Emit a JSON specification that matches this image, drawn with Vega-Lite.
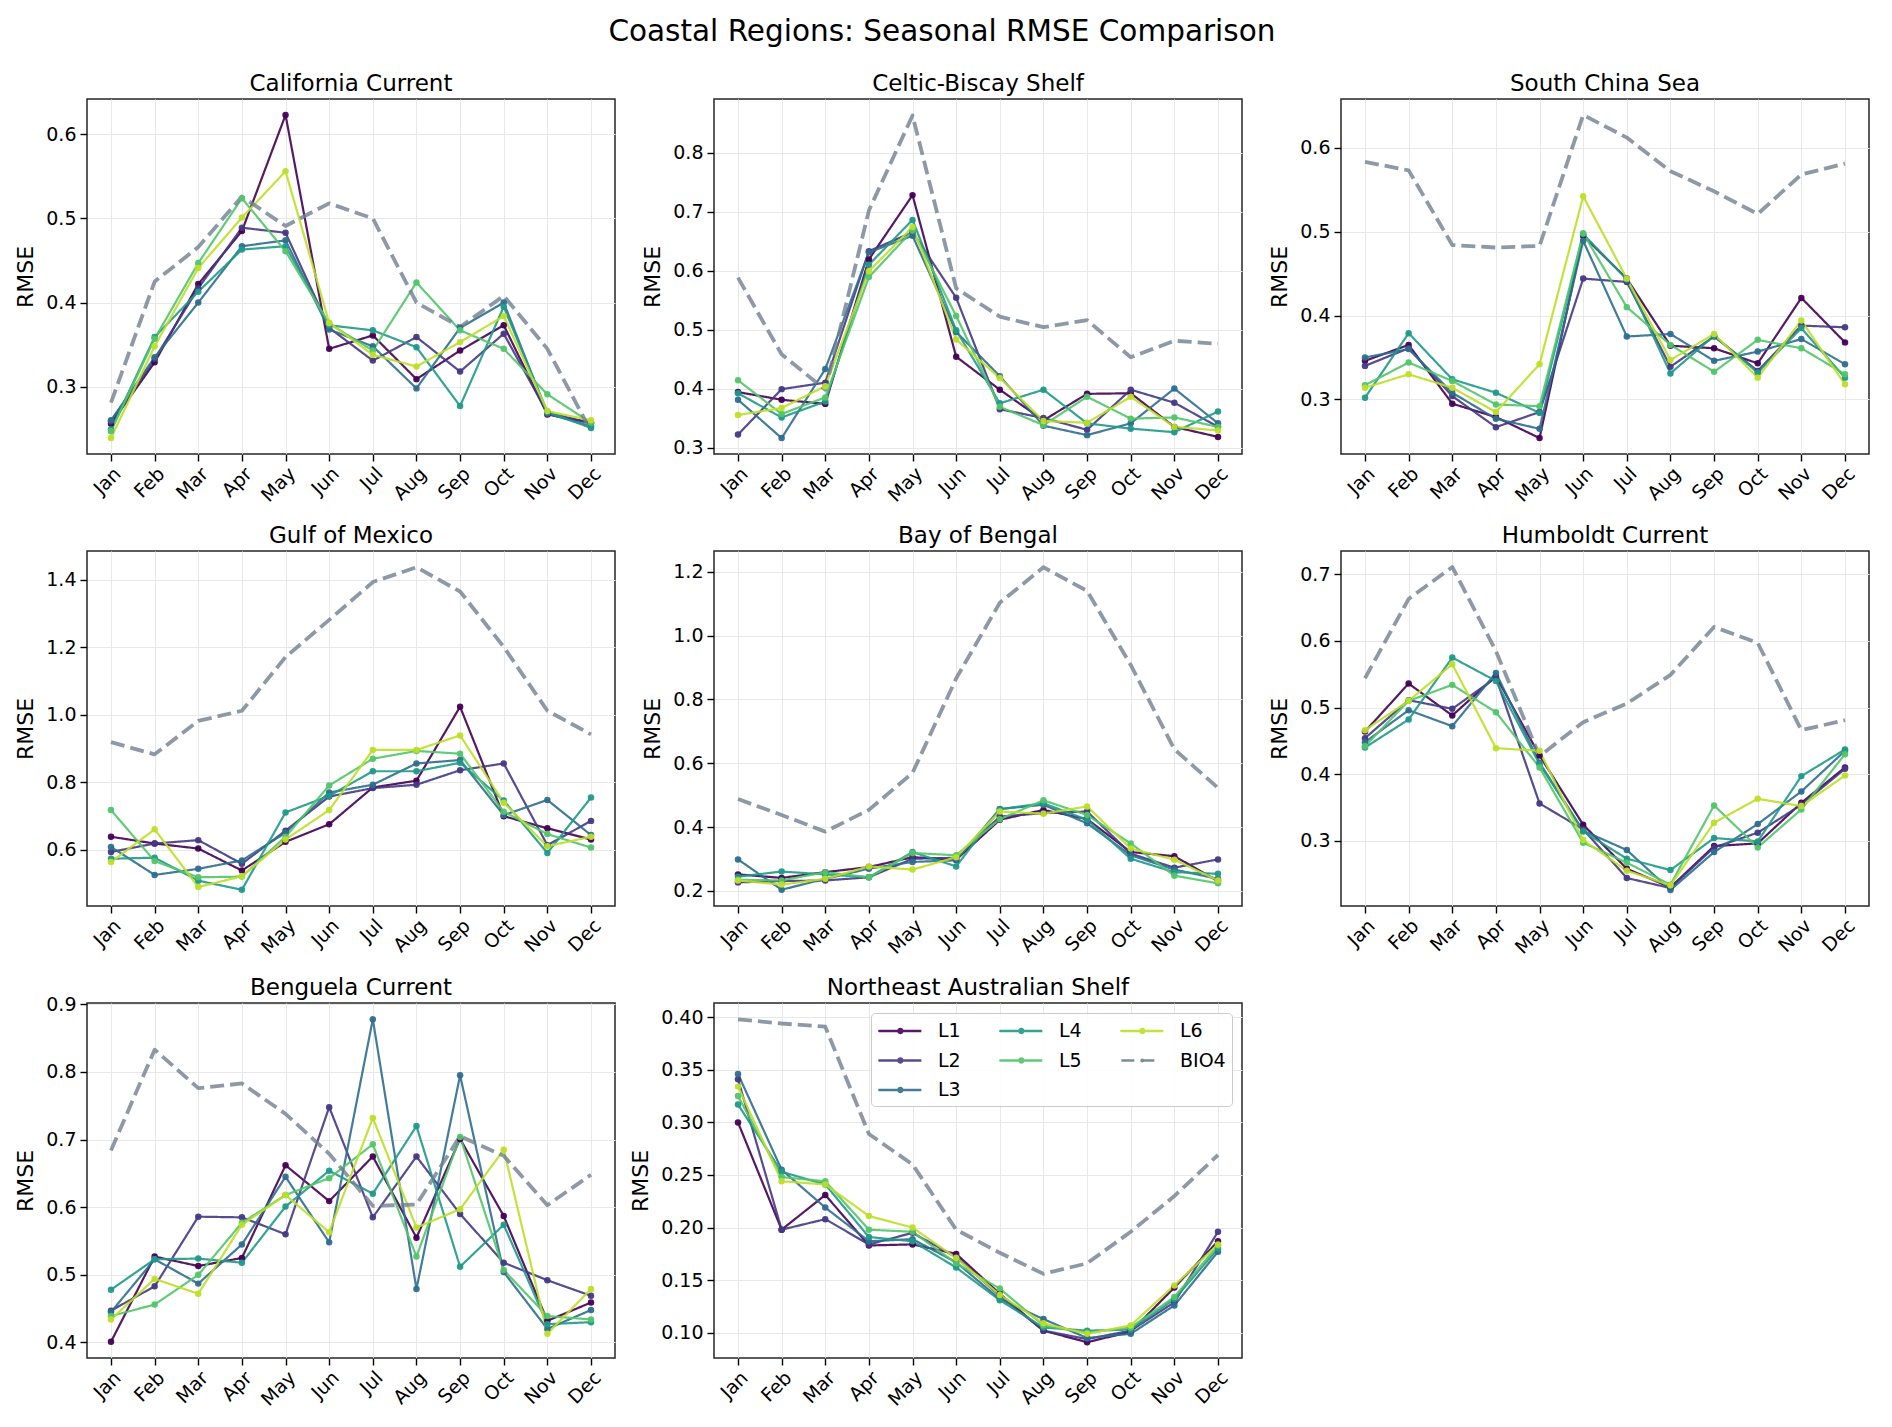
{
"$schema": "https://vega.github.io/schema/vega-lite/v6.json",
"padding": {"left": 14, "top": 16, "right": 10, "bottom": 8},
"title": {"text": "Coastal Regions: Seasonal RMSE Comparison", "fontSize": 29.5, "anchor": "middle", "offset": 25, "fontWeight": "normal", "color": "#000"},
"config": {
  "font": "DejaVu Sans",
  "view": {"stroke": "#262626", "strokeWidth": 1.5},
  "axis": {"domain": false, "labelFontSize": 19, "titleFontSize": 22, "titleFontWeight": "normal", "labelColor": "#000", "titleColor": "#000", "tickColor": "#000", "tickSize": 7, "tickWidth": 1.4, "gridColor": "#e8e8e8", "gridWidth": 1, "labelPadding": 4, "titlePadding": 8},
  "axisX": {"labelAngle": -45, "labelAlign": "right", "labelBaseline": "top", "labelPadding": 3},
  "title": {"fontSize": 23, "fontWeight": "normal", "color": "#000", "offset": 3},
  "line": {"strokeJoin": "round"}
},
"datasets": {
"cal": [
{"month":"Jan","model":"L1","rmse":0.256},{"month":"Feb","model":"L1","rmse":0.329},{"month":"Mar","model":"L1","rmse":0.422},{"month":"Apr","model":"L1","rmse":0.485},{"month":"May","model":"L1","rmse":0.623},{"month":"Jun","model":"L1","rmse":0.345},{"month":"Jul","model":"L1","rmse":0.361},{"month":"Aug","model":"L1","rmse":0.309},{"month":"Sep","model":"L1","rmse":0.343},{"month":"Oct","model":"L1","rmse":0.373},{"month":"Nov","model":"L1","rmse":0.267},{"month":"Dec","model":"L1","rmse":0.257},
{"month":"Jan","model":"L2","rmse":0.259},{"month":"Feb","model":"L2","rmse":0.333},{"month":"Mar","model":"L2","rmse":0.417},{"month":"Apr","model":"L2","rmse":0.489},{"month":"May","model":"L2","rmse":0.483},{"month":"Jun","model":"L2","rmse":0.370},{"month":"Jul","model":"L2","rmse":0.331},{"month":"Aug","model":"L2","rmse":0.359},{"month":"Sep","model":"L2","rmse":0.318},{"month":"Oct","model":"L2","rmse":0.363},{"month":"Nov","model":"L2","rmse":0.269},{"month":"Dec","model":"L2","rmse":0.257},
{"month":"Jan","model":"L3","rmse":0.260},{"month":"Feb","model":"L3","rmse":0.335},{"month":"Mar","model":"L3","rmse":0.400},{"month":"Apr","model":"L3","rmse":0.467},{"month":"May","model":"L3","rmse":0.474},{"month":"Jun","model":"L3","rmse":0.368},{"month":"Jul","model":"L3","rmse":0.348},{"month":"Aug","model":"L3","rmse":0.298},{"month":"Sep","model":"L3","rmse":0.370},{"month":"Oct","model":"L3","rmse":0.400},{"month":"Nov","model":"L3","rmse":0.268},{"month":"Dec","model":"L3","rmse":0.253},
{"month":"Jan","model":"L4","rmse":0.249},{"month":"Feb","model":"L4","rmse":0.359},{"month":"Mar","model":"L4","rmse":0.413},{"month":"Apr","model":"L4","rmse":0.463},{"month":"May","model":"L4","rmse":0.467},{"month":"Jun","model":"L4","rmse":0.373},{"month":"Jul","model":"L4","rmse":0.367},{"month":"Aug","model":"L4","rmse":0.347},{"month":"Sep","model":"L4","rmse":0.277},{"month":"Oct","model":"L4","rmse":0.395},{"month":"Nov","model":"L4","rmse":0.270},{"month":"Dec","model":"L4","rmse":0.251},
{"month":"Jan","model":"L5","rmse":0.247},{"month":"Feb","model":"L5","rmse":0.357},{"month":"Mar","model":"L5","rmse":0.447},{"month":"Apr","model":"L5","rmse":0.524},{"month":"May","model":"L5","rmse":0.461},{"month":"Jun","model":"L5","rmse":0.375},{"month":"Jul","model":"L5","rmse":0.343},{"month":"Aug","model":"L5","rmse":0.424},{"month":"Sep","model":"L5","rmse":0.367},{"month":"Oct","model":"L5","rmse":0.345},{"month":"Nov","model":"L5","rmse":0.291},{"month":"Dec","model":"L5","rmse":0.257},
{"month":"Jan","model":"L6","rmse":0.239},{"month":"Feb","model":"L6","rmse":0.348},{"month":"Mar","model":"L6","rmse":0.441},{"month":"Apr","model":"L6","rmse":0.501},{"month":"May","model":"L6","rmse":0.556},{"month":"Jun","model":"L6","rmse":0.376},{"month":"Jul","model":"L6","rmse":0.338},{"month":"Aug","model":"L6","rmse":0.324},{"month":"Sep","model":"L6","rmse":0.353},{"month":"Oct","model":"L6","rmse":0.384},{"month":"Nov","model":"L6","rmse":0.271},{"month":"Dec","model":"L6","rmse":0.260},
{"month":"Jan","model":"BIO4","rmse":0.281},{"month":"Feb","model":"BIO4","rmse":0.425},{"month":"Mar","model":"BIO4","rmse":0.466},{"month":"Apr","model":"BIO4","rmse":0.526},{"month":"May","model":"BIO4","rmse":0.491},{"month":"Jun","model":"BIO4","rmse":0.518},{"month":"Jul","model":"BIO4","rmse":0.500},{"month":"Aug","model":"BIO4","rmse":0.400},{"month":"Sep","model":"BIO4","rmse":0.371},{"month":"Oct","model":"BIO4","rmse":0.408},{"month":"Nov","model":"BIO4","rmse":0.345},{"month":"Dec","model":"BIO4","rmse":0.247}
],
"cel": [
{"month":"Jan","model":"L1","rmse":0.394},{"month":"Feb","model":"L1","rmse":0.381},{"month":"Mar","model":"L1","rmse":0.374},{"month":"Apr","model":"L1","rmse":0.619},{"month":"May","model":"L1","rmse":0.728},{"month":"Jun","model":"L1","rmse":0.454},{"month":"Jul","model":"L1","rmse":0.398},{"month":"Aug","model":"L1","rmse":0.346},{"month":"Sep","model":"L1","rmse":0.391},{"month":"Oct","model":"L1","rmse":0.392},{"month":"Nov","model":"L1","rmse":0.335},{"month":"Dec","model":"L1","rmse":0.318},
{"month":"Jan","model":"L2","rmse":0.322},{"month":"Feb","model":"L2","rmse":0.399},{"month":"Mar","model":"L2","rmse":0.410},{"month":"Apr","model":"L2","rmse":0.633},{"month":"May","model":"L2","rmse":0.665},{"month":"Jun","model":"L2","rmse":0.554},{"month":"Jul","model":"L2","rmse":0.365},{"month":"Aug","model":"L2","rmse":0.350},{"month":"Sep","model":"L2","rmse":0.330},{"month":"Oct","model":"L2","rmse":0.398},{"month":"Nov","model":"L2","rmse":0.376},{"month":"Dec","model":"L2","rmse":0.335},
{"month":"Jan","model":"L3","rmse":0.381},{"month":"Feb","model":"L3","rmse":0.316},{"month":"Mar","model":"L3","rmse":0.433},{"month":"Apr","model":"L3","rmse":0.631},{"month":"May","model":"L3","rmse":0.659},{"month":"Jun","model":"L3","rmse":0.496},{"month":"Jul","model":"L3","rmse":0.421},{"month":"Aug","model":"L3","rmse":0.337},{"month":"Sep","model":"L3","rmse":0.321},{"month":"Oct","model":"L3","rmse":0.341},{"month":"Nov","model":"L3","rmse":0.400},{"month":"Dec","model":"L3","rmse":0.341},
{"month":"Jan","model":"L4","rmse":0.392},{"month":"Feb","model":"L4","rmse":0.351},{"month":"Mar","model":"L4","rmse":0.378},{"month":"Apr","model":"L4","rmse":0.610},{"month":"May","model":"L4","rmse":0.686},{"month":"Jun","model":"L4","rmse":0.499},{"month":"Jul","model":"L4","rmse":0.375},{"month":"Aug","model":"L4","rmse":0.398},{"month":"Sep","model":"L4","rmse":0.341},{"month":"Oct","model":"L4","rmse":0.332},{"month":"Nov","model":"L4","rmse":0.326},{"month":"Dec","model":"L4","rmse":0.361},
{"month":"Jan","model":"L5","rmse":0.414},{"month":"Feb","model":"L5","rmse":0.357},{"month":"Mar","model":"L5","rmse":0.385},{"month":"Apr","model":"L5","rmse":0.589},{"month":"May","model":"L5","rmse":0.668},{"month":"Jun","model":"L5","rmse":0.523},{"month":"Jul","model":"L5","rmse":0.369},{"month":"Aug","model":"L5","rmse":0.338},{"month":"Sep","model":"L5","rmse":0.386},{"month":"Oct","model":"L5","rmse":0.349},{"month":"Nov","model":"L5","rmse":0.351},{"month":"Dec","model":"L5","rmse":0.335},
{"month":"Jan","model":"L6","rmse":0.355},{"month":"Feb","model":"L6","rmse":0.367},{"month":"Mar","model":"L6","rmse":0.404},{"month":"Apr","model":"L6","rmse":0.599},{"month":"May","model":"L6","rmse":0.674},{"month":"Jun","model":"L6","rmse":0.483},{"month":"Jul","model":"L6","rmse":0.418},{"month":"Aug","model":"L6","rmse":0.345},{"month":"Sep","model":"L6","rmse":0.342},{"month":"Oct","model":"L6","rmse":0.386},{"month":"Nov","model":"L6","rmse":0.335},{"month":"Dec","model":"L6","rmse":0.329},
{"month":"Jan","model":"BIO4","rmse":0.588},{"month":"Feb","model":"BIO4","rmse":0.458},{"month":"Mar","model":"BIO4","rmse":0.398},{"month":"Apr","model":"BIO4","rmse":0.702},{"month":"May","model":"BIO4","rmse":0.863},{"month":"Jun","model":"BIO4","rmse":0.570},{"month":"Jul","model":"BIO4","rmse":0.522},{"month":"Aug","model":"BIO4","rmse":0.504},{"month":"Sep","model":"BIO4","rmse":0.516},{"month":"Oct","model":"BIO4","rmse":0.453},{"month":"Nov","model":"BIO4","rmse":0.481},{"month":"Dec","model":"BIO4","rmse":0.476}
],
"scs": [
{"month":"Jan","model":"L1","rmse":0.346},{"month":"Feb","model":"L1","rmse":0.365},{"month":"Mar","model":"L1","rmse":0.295},{"month":"Apr","model":"L1","rmse":0.279},{"month":"May","model":"L1","rmse":0.254},{"month":"Jun","model":"L1","rmse":0.495},{"month":"Jul","model":"L1","rmse":0.444},{"month":"Aug","model":"L1","rmse":0.364},{"month":"Sep","model":"L1","rmse":0.361},{"month":"Oct","model":"L1","rmse":0.343},{"month":"Nov","model":"L1","rmse":0.421},{"month":"Dec","model":"L1","rmse":0.368},
{"month":"Jan","model":"L2","rmse":0.340},{"month":"Feb","model":"L2","rmse":0.361},{"month":"Mar","model":"L2","rmse":0.304},{"month":"Apr","model":"L2","rmse":0.267},{"month":"May","model":"L2","rmse":0.285},{"month":"Jun","model":"L2","rmse":0.444},{"month":"Jul","model":"L2","rmse":0.440},{"month":"Aug","model":"L2","rmse":0.339},{"month":"Sep","model":"L2","rmse":0.375},{"month":"Oct","model":"L2","rmse":0.334},{"month":"Nov","model":"L2","rmse":0.388},{"month":"Dec","model":"L2","rmse":0.386},
{"month":"Jan","model":"L3","rmse":0.350},{"month":"Feb","model":"L3","rmse":0.360},{"month":"Mar","model":"L3","rmse":0.308},{"month":"Apr","model":"L3","rmse":0.277},{"month":"May","model":"L3","rmse":0.265},{"month":"Jun","model":"L3","rmse":0.489},{"month":"Jul","model":"L3","rmse":0.375},{"month":"Aug","model":"L3","rmse":0.378},{"month":"Sep","model":"L3","rmse":0.346},{"month":"Oct","model":"L3","rmse":0.357},{"month":"Nov","model":"L3","rmse":0.372},{"month":"Dec","model":"L3","rmse":0.342},
{"month":"Jan","model":"L4","rmse":0.302},{"month":"Feb","model":"L4","rmse":0.379},{"month":"Mar","model":"L4","rmse":0.324},{"month":"Apr","model":"L4","rmse":0.308},{"month":"May","model":"L4","rmse":0.284},{"month":"Jun","model":"L4","rmse":0.497},{"month":"Jul","model":"L4","rmse":0.443},{"month":"Aug","model":"L4","rmse":0.331},{"month":"Sep","model":"L4","rmse":0.376},{"month":"Oct","model":"L4","rmse":0.332},{"month":"Nov","model":"L4","rmse":0.385},{"month":"Dec","model":"L4","rmse":0.326},
{"month":"Jan","model":"L5","rmse":0.317},{"month":"Feb","model":"L5","rmse":0.344},{"month":"Mar","model":"L5","rmse":0.322},{"month":"Apr","model":"L5","rmse":0.294},{"month":"May","model":"L5","rmse":0.292},{"month":"Jun","model":"L5","rmse":0.498},{"month":"Jul","model":"L5","rmse":0.410},{"month":"Aug","model":"L5","rmse":0.365},{"month":"Sep","model":"L5","rmse":0.333},{"month":"Oct","model":"L5","rmse":0.371},{"month":"Nov","model":"L5","rmse":0.361},{"month":"Dec","model":"L5","rmse":0.330},
{"month":"Jan","model":"L6","rmse":0.314},{"month":"Feb","model":"L6","rmse":0.330},{"month":"Mar","model":"L6","rmse":0.314},{"month":"Apr","model":"L6","rmse":0.285},{"month":"May","model":"L6","rmse":0.342},{"month":"Jun","model":"L6","rmse":0.542},{"month":"Jul","model":"L6","rmse":0.444},{"month":"Aug","model":"L6","rmse":0.347},{"month":"Sep","model":"L6","rmse":0.378},{"month":"Oct","model":"L6","rmse":0.326},{"month":"Nov","model":"L6","rmse":0.394},{"month":"Dec","model":"L6","rmse":0.318},
{"month":"Jan","model":"BIO4","rmse":0.583},{"month":"Feb","model":"BIO4","rmse":0.573},{"month":"Mar","model":"BIO4","rmse":0.484},{"month":"Apr","model":"BIO4","rmse":0.481},{"month":"May","model":"BIO4","rmse":0.483},{"month":"Jun","model":"BIO4","rmse":0.639},{"month":"Jul","model":"BIO4","rmse":0.612},{"month":"Aug","model":"BIO4","rmse":0.572},{"month":"Sep","model":"BIO4","rmse":0.548},{"month":"Oct","model":"BIO4","rmse":0.521},{"month":"Nov","model":"BIO4","rmse":0.568},{"month":"Dec","model":"BIO4","rmse":0.581}
],
"gom": [
{"month":"Jan","model":"L1","rmse":0.639},{"month":"Feb","model":"L1","rmse":0.619},{"month":"Mar","model":"L1","rmse":0.604},{"month":"Apr","model":"L1","rmse":0.539},{"month":"May","model":"L1","rmse":0.624},{"month":"Jun","model":"L1","rmse":0.676},{"month":"Jul","model":"L1","rmse":0.785},{"month":"Aug","model":"L1","rmse":0.805},{"month":"Sep","model":"L1","rmse":1.024},{"month":"Oct","model":"L1","rmse":0.700},{"month":"Nov","model":"L1","rmse":0.664},{"month":"Dec","model":"L1","rmse":0.631},
{"month":"Jan","model":"L2","rmse":0.594},{"month":"Feb","model":"L2","rmse":0.619},{"month":"Mar","model":"L2","rmse":0.629},{"month":"Apr","model":"L2","rmse":0.559},{"month":"May","model":"L2","rmse":0.657},{"month":"Jun","model":"L2","rmse":0.758},{"month":"Jul","model":"L2","rmse":0.783},{"month":"Aug","model":"L2","rmse":0.793},{"month":"Sep","model":"L2","rmse":0.836},{"month":"Oct","model":"L2","rmse":0.856},{"month":"Nov","model":"L2","rmse":0.614},{"month":"Dec","model":"L2","rmse":0.686},
{"month":"Jan","model":"L3","rmse":0.609},{"month":"Feb","model":"L3","rmse":0.526},{"month":"Mar","model":"L3","rmse":0.544},{"month":"Apr","model":"L3","rmse":0.569},{"month":"May","model":"L3","rmse":0.651},{"month":"Jun","model":"L3","rmse":0.770},{"month":"Jul","model":"L3","rmse":0.793},{"month":"Aug","model":"L3","rmse":0.856},{"month":"Sep","model":"L3","rmse":0.866},{"month":"Oct","model":"L3","rmse":0.703},{"month":"Nov","model":"L3","rmse":0.748},{"month":"Dec","model":"L3","rmse":0.644},
{"month":"Jan","model":"L4","rmse":0.574},{"month":"Feb","model":"L4","rmse":0.577},{"month":"Mar","model":"L4","rmse":0.509},{"month":"Apr","model":"L4","rmse":0.482},{"month":"May","model":"L4","rmse":0.711},{"month":"Jun","model":"L4","rmse":0.760},{"month":"Jul","model":"L4","rmse":0.833},{"month":"Aug","model":"L4","rmse":0.833},{"month":"Sep","model":"L4","rmse":0.858},{"month":"Oct","model":"L4","rmse":0.746},{"month":"Nov","model":"L4","rmse":0.591},{"month":"Dec","model":"L4","rmse":0.755},
{"month":"Jan","model":"L5","rmse":0.718},{"month":"Feb","model":"L5","rmse":0.567},{"month":"Mar","model":"L5","rmse":0.519},{"month":"Apr","model":"L5","rmse":0.521},{"month":"May","model":"L5","rmse":0.639},{"month":"Jun","model":"L5","rmse":0.791},{"month":"Jul","model":"L5","rmse":0.870},{"month":"Aug","model":"L5","rmse":0.893},{"month":"Sep","model":"L5","rmse":0.885},{"month":"Oct","model":"L5","rmse":0.713},{"month":"Nov","model":"L5","rmse":0.647},{"month":"Dec","model":"L5","rmse":0.607},
{"month":"Jan","model":"L6","rmse":0.564},{"month":"Feb","model":"L6","rmse":0.661},{"month":"Mar","model":"L6","rmse":0.490},{"month":"Apr","model":"L6","rmse":0.522},{"month":"May","model":"L6","rmse":0.631},{"month":"Jun","model":"L6","rmse":0.718},{"month":"Jul","model":"L6","rmse":0.896},{"month":"Aug","model":"L6","rmse":0.896},{"month":"Sep","model":"L6","rmse":0.939},{"month":"Oct","model":"L6","rmse":0.740},{"month":"Nov","model":"L6","rmse":0.611},{"month":"Dec","model":"L6","rmse":0.639},
{"month":"Jan","model":"BIO4","rmse":0.919},{"month":"Feb","model":"BIO4","rmse":0.883},{"month":"Mar","model":"BIO4","rmse":0.982},{"month":"Apr","model":"BIO4","rmse":1.012},{"month":"May","model":"BIO4","rmse":1.171},{"month":"Jun","model":"BIO4","rmse":1.281},{"month":"Jul","model":"BIO4","rmse":1.393},{"month":"Aug","model":"BIO4","rmse":1.437},{"month":"Sep","model":"BIO4","rmse":1.365},{"month":"Oct","model":"BIO4","rmse":1.201},{"month":"Nov","model":"BIO4","rmse":1.012},{"month":"Dec","model":"BIO4","rmse":0.942}
],
"bob": [
{"month":"Jan","model":"L1","rmse":0.252},{"month":"Feb","model":"L1","rmse":0.241},{"month":"Mar","model":"L1","rmse":0.259},{"month":"Apr","model":"L1","rmse":0.275},{"month":"May","model":"L1","rmse":0.306},{"month":"Jun","model":"L1","rmse":0.298},{"month":"Jul","model":"L1","rmse":0.423},{"month":"Aug","model":"L1","rmse":0.454},{"month":"Sep","model":"L1","rmse":0.425},{"month":"Oct","model":"L1","rmse":0.322},{"month":"Nov","model":"L1","rmse":0.309},{"month":"Dec","model":"L1","rmse":0.231},
{"month":"Jan","model":"L2","rmse":0.227},{"month":"Feb","model":"L2","rmse":0.231},{"month":"Mar","model":"L2","rmse":0.233},{"month":"Apr","model":"L2","rmse":0.243},{"month":"May","model":"L2","rmse":0.301},{"month":"Jun","model":"L2","rmse":0.304},{"month":"Jul","model":"L2","rmse":0.433},{"month":"Aug","model":"L2","rmse":0.444},{"month":"Sep","model":"L2","rmse":0.449},{"month":"Oct","model":"L2","rmse":0.317},{"month":"Nov","model":"L2","rmse":0.273},{"month":"Dec","model":"L2","rmse":0.299},
{"month":"Jan","model":"L3","rmse":0.299},{"month":"Feb","model":"L3","rmse":0.204},{"month":"Mar","model":"L3","rmse":0.238},{"month":"Apr","model":"L3","rmse":0.270},{"month":"May","model":"L3","rmse":0.291},{"month":"Jun","model":"L3","rmse":0.296},{"month":"Jul","model":"L3","rmse":0.457},{"month":"Aug","model":"L3","rmse":0.470},{"month":"Sep","model":"L3","rmse":0.412},{"month":"Oct","model":"L3","rmse":0.312},{"month":"Nov","model":"L3","rmse":0.267},{"month":"Dec","model":"L3","rmse":0.238},
{"month":"Jan","model":"L4","rmse":0.245},{"month":"Feb","model":"L4","rmse":0.261},{"month":"Mar","model":"L4","rmse":0.252},{"month":"Apr","model":"L4","rmse":0.243},{"month":"May","model":"L4","rmse":0.322},{"month":"Jun","model":"L4","rmse":0.277},{"month":"Jul","model":"L4","rmse":0.456},{"month":"Aug","model":"L4","rmse":0.475},{"month":"Sep","model":"L4","rmse":0.423},{"month":"Oct","model":"L4","rmse":0.301},{"month":"Nov","model":"L4","rmse":0.259},{"month":"Dec","model":"L4","rmse":0.254},
{"month":"Jan","model":"L5","rmse":0.235},{"month":"Feb","model":"L5","rmse":0.233},{"month":"Mar","model":"L5","rmse":0.259},{"month":"Apr","model":"L5","rmse":0.243},{"month":"May","model":"L5","rmse":0.319},{"month":"Jun","model":"L5","rmse":0.312},{"month":"Jul","model":"L5","rmse":0.425},{"month":"Aug","model":"L5","rmse":0.484},{"month":"Sep","model":"L5","rmse":0.438},{"month":"Oct","model":"L5","rmse":0.349},{"month":"Nov","model":"L5","rmse":0.248},{"month":"Dec","model":"L5","rmse":0.224},
{"month":"Jan","model":"L6","rmse":0.233},{"month":"Feb","model":"L6","rmse":0.220},{"month":"Mar","model":"L6","rmse":0.238},{"month":"Apr","model":"L6","rmse":0.277},{"month":"May","model":"L6","rmse":0.267},{"month":"Jun","model":"L6","rmse":0.306},{"month":"Jul","model":"L6","rmse":0.449},{"month":"Aug","model":"L6","rmse":0.442},{"month":"Sep","model":"L6","rmse":0.465},{"month":"Oct","model":"L6","rmse":0.333},{"month":"Nov","model":"L6","rmse":0.298},{"month":"Dec","model":"L6","rmse":0.233},
{"month":"Jan","model":"BIO4","rmse":0.488},{"month":"Feb","model":"BIO4","rmse":0.438},{"month":"Mar","model":"BIO4","rmse":0.386},{"month":"Apr","model":"BIO4","rmse":0.454},{"month":"May","model":"BIO4","rmse":0.570},{"month":"Jun","model":"BIO4","rmse":0.866},{"month":"Jul","model":"BIO4","rmse":1.103},{"month":"Aug","model":"BIO4","rmse":1.214},{"month":"Sep","model":"BIO4","rmse":1.140},{"month":"Oct","model":"BIO4","rmse":0.908},{"month":"Nov","model":"BIO4","rmse":0.644},{"month":"Dec","model":"BIO4","rmse":0.523}
],
"hum": [
{"month":"Jan","model":"L1","rmse":0.464},{"month":"Feb","model":"L1","rmse":0.536},{"month":"Mar","model":"L1","rmse":0.488},{"month":"Apr","model":"L1","rmse":0.547},{"month":"May","model":"L1","rmse":0.428},{"month":"Jun","model":"L1","rmse":0.324},{"month":"Jul","model":"L1","rmse":0.258},{"month":"Aug","model":"L1","rmse":0.230},{"month":"Sep","model":"L1","rmse":0.292},{"month":"Oct","model":"L1","rmse":0.296},{"month":"Nov","model":"L1","rmse":0.357},{"month":"Dec","model":"L1","rmse":0.410},
{"month":"Jan","model":"L2","rmse":0.454},{"month":"Feb","model":"L2","rmse":0.511},{"month":"Mar","model":"L2","rmse":0.498},{"month":"Apr","model":"L2","rmse":0.545},{"month":"May","model":"L2","rmse":0.356},{"month":"Jun","model":"L2","rmse":0.317},{"month":"Jul","model":"L2","rmse":0.244},{"month":"Aug","model":"L2","rmse":0.229},{"month":"Sep","model":"L2","rmse":0.290},{"month":"Oct","model":"L2","rmse":0.312},{"month":"Nov","model":"L2","rmse":0.354},{"month":"Dec","model":"L2","rmse":0.408},
{"month":"Jan","model":"L3","rmse":0.448},{"month":"Feb","model":"L3","rmse":0.496},{"month":"Mar","model":"L3","rmse":0.472},{"month":"Apr","model":"L3","rmse":0.552},{"month":"May","model":"L3","rmse":0.417},{"month":"Jun","model":"L3","rmse":0.315},{"month":"Jul","model":"L3","rmse":0.286},{"month":"Aug","model":"L3","rmse":0.226},{"month":"Sep","model":"L3","rmse":0.283},{"month":"Oct","model":"L3","rmse":0.325},{"month":"Nov","model":"L3","rmse":0.374},{"month":"Dec","model":"L3","rmse":0.435},
{"month":"Jan","model":"L4","rmse":0.440},{"month":"Feb","model":"L4","rmse":0.482},{"month":"Mar","model":"L4","rmse":0.575},{"month":"Apr","model":"L4","rmse":0.540},{"month":"May","model":"L4","rmse":0.415},{"month":"Jun","model":"L4","rmse":0.314},{"month":"Jul","model":"L4","rmse":0.273},{"month":"Aug","model":"L4","rmse":0.256},{"month":"Sep","model":"L4","rmse":0.304},{"month":"Oct","model":"L4","rmse":0.299},{"month":"Nov","model":"L4","rmse":0.397},{"month":"Dec","model":"L4","rmse":0.437},
{"month":"Jan","model":"L5","rmse":0.442},{"month":"Feb","model":"L5","rmse":0.510},{"month":"Mar","model":"L5","rmse":0.534},{"month":"Apr","model":"L5","rmse":0.493},{"month":"May","model":"L5","rmse":0.410},{"month":"Jun","model":"L5","rmse":0.297},{"month":"Jul","model":"L5","rmse":0.267},{"month":"Aug","model":"L5","rmse":0.234},{"month":"Sep","model":"L5","rmse":0.353},{"month":"Oct","model":"L5","rmse":0.290},{"month":"Nov","model":"L5","rmse":0.347},{"month":"Dec","model":"L5","rmse":0.430},
{"month":"Jan","model":"L6","rmse":0.466},{"month":"Feb","model":"L6","rmse":0.510},{"month":"Mar","model":"L6","rmse":0.565},{"month":"Apr","model":"L6","rmse":0.439},{"month":"May","model":"L6","rmse":0.435},{"month":"Jun","model":"L6","rmse":0.301},{"month":"Jul","model":"L6","rmse":0.255},{"month":"Aug","model":"L6","rmse":0.233},{"month":"Sep","model":"L6","rmse":0.327},{"month":"Oct","model":"L6","rmse":0.363},{"month":"Nov","model":"L6","rmse":0.352},{"month":"Dec","model":"L6","rmse":0.398},
{"month":"Jan","model":"BIO4","rmse":0.544},{"month":"Feb","model":"BIO4","rmse":0.663},{"month":"Mar","model":"BIO4","rmse":0.711},{"month":"Apr","model":"BIO4","rmse":0.585},{"month":"May","model":"BIO4","rmse":0.427},{"month":"Jun","model":"BIO4","rmse":0.478},{"month":"Jul","model":"BIO4","rmse":0.506},{"month":"Aug","model":"BIO4","rmse":0.549},{"month":"Sep","model":"BIO4","rmse":0.621},{"month":"Oct","model":"BIO4","rmse":0.597},{"month":"Nov","model":"BIO4","rmse":0.466},{"month":"Dec","model":"BIO4","rmse":0.481}
],
"ben": [
{"month":"Jan","model":"L1","rmse":0.401},{"month":"Feb","model":"L1","rmse":0.527},{"month":"Mar","model":"L1","rmse":0.513},{"month":"Apr","model":"L1","rmse":0.525},{"month":"May","model":"L1","rmse":0.662},{"month":"Jun","model":"L1","rmse":0.609},{"month":"Jul","model":"L1","rmse":0.675},{"month":"Aug","model":"L1","rmse":0.555},{"month":"Sep","model":"L1","rmse":0.701},{"month":"Oct","model":"L1","rmse":0.587},{"month":"Nov","model":"L1","rmse":0.432},{"month":"Dec","model":"L1","rmse":0.459},
{"month":"Jan","model":"L2","rmse":0.447},{"month":"Feb","model":"L2","rmse":0.483},{"month":"Mar","model":"L2","rmse":0.586},{"month":"Apr","model":"L2","rmse":0.585},{"month":"May","model":"L2","rmse":0.560},{"month":"Jun","model":"L2","rmse":0.748},{"month":"Jul","model":"L2","rmse":0.585},{"month":"Aug","model":"L2","rmse":0.675},{"month":"Sep","model":"L2","rmse":0.590},{"month":"Oct","model":"L2","rmse":0.518},{"month":"Nov","model":"L2","rmse":0.492},{"month":"Dec","model":"L2","rmse":0.469},
{"month":"Jan","model":"L3","rmse":0.445},{"month":"Feb","model":"L3","rmse":0.523},{"month":"Mar","model":"L3","rmse":0.487},{"month":"Apr","model":"L3","rmse":0.545},{"month":"May","model":"L3","rmse":0.645},{"month":"Jun","model":"L3","rmse":0.548},{"month":"Jul","model":"L3","rmse":0.878},{"month":"Aug","model":"L3","rmse":0.479},{"month":"Sep","model":"L3","rmse":0.795},{"month":"Oct","model":"L3","rmse":0.504},{"month":"Nov","model":"L3","rmse":0.420},{"month":"Dec","model":"L3","rmse":0.448},
{"month":"Jan","model":"L4","rmse":0.478},{"month":"Feb","model":"L4","rmse":0.523},{"month":"Mar","model":"L4","rmse":0.524},{"month":"Apr","model":"L4","rmse":0.518},{"month":"May","model":"L4","rmse":0.601},{"month":"Jun","model":"L4","rmse":0.654},{"month":"Jul","model":"L4","rmse":0.620},{"month":"Aug","model":"L4","rmse":0.720},{"month":"Sep","model":"L4","rmse":0.512},{"month":"Oct","model":"L4","rmse":0.574},{"month":"Nov","model":"L4","rmse":0.427},{"month":"Dec","model":"L4","rmse":0.430},
{"month":"Jan","model":"L5","rmse":0.439},{"month":"Feb","model":"L5","rmse":0.456},{"month":"Mar","model":"L5","rmse":0.500},{"month":"Apr","model":"L5","rmse":0.577},{"month":"May","model":"L5","rmse":0.618},{"month":"Jun","model":"L5","rmse":0.643},{"month":"Jul","model":"L5","rmse":0.693},{"month":"Aug","model":"L5","rmse":0.527},{"month":"Sep","model":"L5","rmse":0.704},{"month":"Oct","model":"L5","rmse":0.507},{"month":"Nov","model":"L5","rmse":0.439},{"month":"Dec","model":"L5","rmse":0.434},
{"month":"Jan","model":"L6","rmse":0.434},{"month":"Feb","model":"L6","rmse":0.494},{"month":"Mar","model":"L6","rmse":0.472},{"month":"Apr","model":"L6","rmse":0.574},{"month":"May","model":"L6","rmse":0.618},{"month":"Jun","model":"L6","rmse":0.563},{"month":"Jul","model":"L6","rmse":0.732},{"month":"Aug","model":"L6","rmse":0.570},{"month":"Sep","model":"L6","rmse":0.597},{"month":"Oct","model":"L6","rmse":0.685},{"month":"Nov","model":"L6","rmse":0.413},{"month":"Dec","model":"L6","rmse":0.479},
{"month":"Jan","model":"BIO4","rmse":0.684},{"month":"Feb","model":"BIO4","rmse":0.833},{"month":"Mar","model":"BIO4","rmse":0.776},{"month":"Apr","model":"BIO4","rmse":0.783},{"month":"May","model":"BIO4","rmse":0.738},{"month":"Jun","model":"BIO4","rmse":0.679},{"month":"Jul","model":"BIO4","rmse":0.602},{"month":"Aug","model":"BIO4","rmse":0.604},{"month":"Sep","model":"BIO4","rmse":0.705},{"month":"Oct","model":"BIO4","rmse":0.676},{"month":"Nov","model":"BIO4","rmse":0.603},{"month":"Dec","model":"BIO4","rmse":0.648}
],
"nea": [
{"month":"Jan","model":"L1","rmse":0.300},{"month":"Feb","model":"L1","rmse":0.198},{"month":"Mar","model":"L1","rmse":0.231},{"month":"Apr","model":"L1","rmse":0.183},{"month":"May","model":"L1","rmse":0.184},{"month":"Jun","model":"L1","rmse":0.175},{"month":"Jul","model":"L1","rmse":0.137},{"month":"Aug","model":"L1","rmse":0.102},{"month":"Sep","model":"L1","rmse":0.091},{"month":"Oct","model":"L1","rmse":0.101},{"month":"Nov","model":"L1","rmse":0.143},{"month":"Dec","model":"L1","rmse":0.187},
{"month":"Jan","model":"L2","rmse":0.341},{"month":"Feb","model":"L2","rmse":0.198},{"month":"Mar","model":"L2","rmse":0.208},{"month":"Apr","model":"L2","rmse":0.184},{"month":"May","model":"L2","rmse":0.195},{"month":"Jun","model":"L2","rmse":0.172},{"month":"Jul","model":"L2","rmse":0.135},{"month":"Aug","model":"L2","rmse":0.102},{"month":"Sep","model":"L2","rmse":0.094},{"month":"Oct","model":"L2","rmse":0.102},{"month":"Nov","model":"L2","rmse":0.129},{"month":"Dec","model":"L2","rmse":0.196},
{"month":"Jan","model":"L3","rmse":0.346},{"month":"Feb","model":"L3","rmse":0.255},{"month":"Mar","model":"L3","rmse":0.219},{"month":"Apr","model":"L3","rmse":0.187},{"month":"May","model":"L3","rmse":0.189},{"month":"Jun","model":"L3","rmse":0.167},{"month":"Jul","model":"L3","rmse":0.132},{"month":"Aug","model":"L3","rmse":0.113},{"month":"Sep","model":"L3","rmse":0.095},{"month":"Oct","model":"L3","rmse":0.099},{"month":"Nov","model":"L3","rmse":0.126},{"month":"Dec","model":"L3","rmse":0.177},
{"month":"Jan","model":"L4","rmse":0.317},{"month":"Feb","model":"L4","rmse":0.253},{"month":"Mar","model":"L4","rmse":0.241},{"month":"Apr","model":"L4","rmse":0.191},{"month":"May","model":"L4","rmse":0.187},{"month":"Jun","model":"L4","rmse":0.162},{"month":"Jul","model":"L4","rmse":0.131},{"month":"Aug","model":"L4","rmse":0.105},{"month":"Sep","model":"L4","rmse":0.102},{"month":"Oct","model":"L4","rmse":0.103},{"month":"Nov","model":"L4","rmse":0.132},{"month":"Dec","model":"L4","rmse":0.180},
{"month":"Jan","model":"L5","rmse":0.325},{"month":"Feb","model":"L5","rmse":0.248},{"month":"Mar","model":"L5","rmse":0.244},{"month":"Apr","model":"L5","rmse":0.198},{"month":"May","model":"L5","rmse":0.196},{"month":"Jun","model":"L5","rmse":0.166},{"month":"Jul","model":"L5","rmse":0.142},{"month":"Aug","model":"L5","rmse":0.107},{"month":"Sep","model":"L5","rmse":0.100},{"month":"Oct","model":"L5","rmse":0.105},{"month":"Nov","model":"L5","rmse":0.134},{"month":"Dec","model":"L5","rmse":0.183},
{"month":"Jan","model":"L6","rmse":0.334},{"month":"Feb","model":"L6","rmse":0.244},{"month":"Mar","model":"L6","rmse":0.241},{"month":"Apr","model":"L6","rmse":0.211},{"month":"May","model":"L6","rmse":0.200},{"month":"Jun","model":"L6","rmse":0.171},{"month":"Jul","model":"L6","rmse":0.136},{"month":"Aug","model":"L6","rmse":0.109},{"month":"Sep","model":"L6","rmse":0.099},{"month":"Oct","model":"L6","rmse":0.107},{"month":"Nov","model":"L6","rmse":0.145},{"month":"Dec","model":"L6","rmse":0.184},
{"month":"Jan","model":"BIO4","rmse":0.398},{"month":"Feb","model":"BIO4","rmse":0.394},{"month":"Mar","model":"BIO4","rmse":0.391},{"month":"Apr","model":"BIO4","rmse":0.289},{"month":"May","model":"BIO4","rmse":0.260},{"month":"Jun","model":"BIO4","rmse":0.198},{"month":"Jul","model":"BIO4","rmse":0.176},{"month":"Aug","model":"BIO4","rmse":0.156},{"month":"Sep","model":"BIO4","rmse":0.166},{"month":"Oct","model":"BIO4","rmse":0.196},{"month":"Nov","model":"BIO4","rmse":0.230},{"month":"Dec","model":"BIO4","rmse":0.269}
]
},
"columns": 3,
"bounds": "flush",
"spacing": {"column": 99, "row": 97},
"resolve": {"scale": {"x": "independent", "y": "independent", "color": "shared"}, "legend": {"color": "independent", "strokeDash": "independent"}},
"concat": [
{"width": 528, "height": 355, "title": "California Current", "data": {"name": "cal"},
 "encoding": {
  "x": {"field": "month", "type": "ordinal", "title": null, "scale": {"type": "point", "domain": ["Jan","Feb","Mar","Apr","May","Jun","Jul","Aug","Sep","Oct","Nov","Dec"], "padding": 0.55}, "axis": {"grid": true}},
  "y": {"field": "rmse", "type": "quantitative", "title": "RMSE", "scale": {"domain": [0.22, 0.642], "zero": false, "nice": false}, "axis": {"values": [0.3,0.4,0.5,0.6], "format": ".1f"}},
  "color": {"field": "model", "type": "nominal", "scale": {"domain": ["L1","L4","L6","L2","L5","BIO4","L3"], "range": ["#440154","#1f9a8a","#bddf26","#443983","#52c569","#708090","#2e6e8e"]}, "legend": null}
 },
 "layer": [
  {"mark": {"type": "line"}, "encoding": {"order": {"value": null}, "strokeDash": {"condition": {"test": "datum.model === 'BIO4'", "value": [14,6]}, "value": [1,0]}, "strokeWidth": {"condition": {"test": "datum.model === 'BIO4'", "value": 3.8}, "value": 2.2}, "opacity": {"condition": {"test": "datum.model === 'BIO4'", "value": 0.8}, "value": 0.9}}},
  {"transform": [{"filter": "datum.model !== 'BIO4'"}], "mark": {"type": "point", "filled": true, "size": 42, "opacity": 0.95}}
 ]},
{"width": 528, "height": 355, "title": "Celtic-Biscay Shelf", "data": {"name": "cel"},
 "encoding": {
  "x": {"field": "month", "type": "ordinal", "title": null, "scale": {"type": "point", "domain": ["Jan","Feb","Mar","Apr","May","Jun","Jul","Aug","Sep","Oct","Nov","Dec"], "padding": 0.55}, "axis": {"grid": true}},
  "y": {"field": "rmse", "type": "quantitative", "title": "RMSE", "scale": {"domain": [0.289, 0.891], "zero": false, "nice": false}, "axis": {"values": [0.3,0.4,0.5,0.6,0.7,0.8], "format": ".1f"}},
  "color": {"field": "model", "type": "nominal", "scale": {"domain": ["L1","L4","L6","L2","L5","BIO4","L3"], "range": ["#440154","#1f9a8a","#bddf26","#443983","#52c569","#708090","#2e6e8e"]}, "legend": null}
 },
 "layer": [
  {"mark": {"type": "line"}, "encoding": {"order": {"value": null}, "strokeDash": {"condition": {"test": "datum.model === 'BIO4'", "value": [14,6]}, "value": [1,0]}, "strokeWidth": {"condition": {"test": "datum.model === 'BIO4'", "value": 3.8}, "value": 2.2}, "opacity": {"condition": {"test": "datum.model === 'BIO4'", "value": 0.8}, "value": 0.9}}},
  {"transform": [{"filter": "datum.model !== 'BIO4'"}], "mark": {"type": "point", "filled": true, "size": 42, "opacity": 0.95}}
 ]},
{"width": 528, "height": 355, "title": "South China Sea", "data": {"name": "scs"},
 "encoding": {
  "x": {"field": "month", "type": "ordinal", "title": null, "scale": {"type": "point", "domain": ["Jan","Feb","Mar","Apr","May","Jun","Jul","Aug","Sep","Oct","Nov","Dec"], "padding": 0.55}, "axis": {"grid": true}},
  "y": {"field": "rmse", "type": "quantitative", "title": "RMSE", "scale": {"domain": [0.235, 0.658], "zero": false, "nice": false}, "axis": {"values": [0.3,0.4,0.5,0.6], "format": ".1f"}},
  "color": {"field": "model", "type": "nominal", "scale": {"domain": ["L1","L4","L6","L2","L5","BIO4","L3"], "range": ["#440154","#1f9a8a","#bddf26","#443983","#52c569","#708090","#2e6e8e"]}, "legend": null}
 },
 "layer": [
  {"mark": {"type": "line"}, "encoding": {"order": {"value": null}, "strokeDash": {"condition": {"test": "datum.model === 'BIO4'", "value": [14,6]}, "value": [1,0]}, "strokeWidth": {"condition": {"test": "datum.model === 'BIO4'", "value": 3.8}, "value": 2.2}, "opacity": {"condition": {"test": "datum.model === 'BIO4'", "value": 0.8}, "value": 0.9}}},
  {"transform": [{"filter": "datum.model !== 'BIO4'"}], "mark": {"type": "point", "filled": true, "size": 42, "opacity": 0.95}}
 ]},
{"width": 528, "height": 355, "title": "Gulf of Mexico", "data": {"name": "gom"},
 "encoding": {
  "x": {"field": "month", "type": "ordinal", "title": null, "scale": {"type": "point", "domain": ["Jan","Feb","Mar","Apr","May","Jun","Jul","Aug","Sep","Oct","Nov","Dec"], "padding": 0.55}, "axis": {"grid": true}},
  "y": {"field": "rmse", "type": "quantitative", "title": "RMSE", "scale": {"domain": [0.434, 1.485], "zero": false, "nice": false}, "axis": {"values": [0.6,0.8,1.0,1.2,1.4], "format": ".1f"}},
  "color": {"field": "model", "type": "nominal", "scale": {"domain": ["L1","L4","L6","L2","L5","BIO4","L3"], "range": ["#440154","#1f9a8a","#bddf26","#443983","#52c569","#708090","#2e6e8e"]}, "legend": null}
 },
 "layer": [
  {"mark": {"type": "line"}, "encoding": {"order": {"value": null}, "strokeDash": {"condition": {"test": "datum.model === 'BIO4'", "value": [14,6]}, "value": [1,0]}, "strokeWidth": {"condition": {"test": "datum.model === 'BIO4'", "value": 3.8}, "value": 2.2}, "opacity": {"condition": {"test": "datum.model === 'BIO4'", "value": 0.8}, "value": 0.9}}},
  {"transform": [{"filter": "datum.model !== 'BIO4'"}], "mark": {"type": "point", "filled": true, "size": 42, "opacity": 0.95}}
 ]},
{"width": 528, "height": 355, "title": "Bay of Bengal", "data": {"name": "bob"},
 "encoding": {
  "x": {"field": "month", "type": "ordinal", "title": null, "scale": {"type": "point", "domain": ["Jan","Feb","Mar","Apr","May","Jun","Jul","Aug","Sep","Oct","Nov","Dec"], "padding": 0.55}, "axis": {"grid": true}},
  "y": {"field": "rmse", "type": "quantitative", "title": "RMSE", "scale": {"domain": [0.153, 1.265], "zero": false, "nice": false}, "axis": {"values": [0.2,0.4,0.6,0.8,1.0,1.2], "format": ".1f"}},
  "color": {"field": "model", "type": "nominal", "scale": {"domain": ["L1","L4","L6","L2","L5","BIO4","L3"], "range": ["#440154","#1f9a8a","#bddf26","#443983","#52c569","#708090","#2e6e8e"]}, "legend": null}
 },
 "layer": [
  {"mark": {"type": "line"}, "encoding": {"order": {"value": null}, "strokeDash": {"condition": {"test": "datum.model === 'BIO4'", "value": [14,6]}, "value": [1,0]}, "strokeWidth": {"condition": {"test": "datum.model === 'BIO4'", "value": 3.8}, "value": 2.2}, "opacity": {"condition": {"test": "datum.model === 'BIO4'", "value": 0.8}, "value": 0.9}}},
  {"transform": [{"filter": "datum.model !== 'BIO4'"}], "mark": {"type": "point", "filled": true, "size": 42, "opacity": 0.95}}
 ]},
{"width": 528, "height": 355, "title": "Humboldt Current", "data": {"name": "hum"},
 "encoding": {
  "x": {"field": "month", "type": "ordinal", "title": null, "scale": {"type": "point", "domain": ["Jan","Feb","Mar","Apr","May","Jun","Jul","Aug","Sep","Oct","Nov","Dec"], "padding": 0.55}, "axis": {"grid": true}},
  "y": {"field": "rmse", "type": "quantitative", "title": "RMSE", "scale": {"domain": [0.202, 0.735], "zero": false, "nice": false}, "axis": {"values": [0.3,0.4,0.5,0.6,0.7], "format": ".1f"}},
  "color": {"field": "model", "type": "nominal", "scale": {"domain": ["L1","L4","L6","L2","L5","BIO4","L3"], "range": ["#440154","#1f9a8a","#bddf26","#443983","#52c569","#708090","#2e6e8e"]}, "legend": null}
 },
 "layer": [
  {"mark": {"type": "line"}, "encoding": {"order": {"value": null}, "strokeDash": {"condition": {"test": "datum.model === 'BIO4'", "value": [14,6]}, "value": [1,0]}, "strokeWidth": {"condition": {"test": "datum.model === 'BIO4'", "value": 3.8}, "value": 2.2}, "opacity": {"condition": {"test": "datum.model === 'BIO4'", "value": 0.8}, "value": 0.9}}},
  {"transform": [{"filter": "datum.model !== 'BIO4'"}], "mark": {"type": "point", "filled": true, "size": 42, "opacity": 0.95}}
 ]},
{"width": 528, "height": 355, "title": {"text": "Benguela Current", "offset": -5}, "data": {"name": "ben"},
 "encoding": {
  "x": {"field": "month", "type": "ordinal", "title": null, "scale": {"type": "point", "domain": ["Jan","Feb","Mar","Apr","May","Jun","Jul","Aug","Sep","Oct","Nov","Dec"], "padding": 0.55}, "axis": {"grid": true}},
  "y": {"field": "rmse", "type": "quantitative", "title": "RMSE", "scale": {"domain": [0.377, 0.902], "zero": false, "nice": false}, "axis": {"values": [0.4,0.5,0.6,0.7,0.8,0.9], "format": ".1f"}},
  "color": {"field": "model", "type": "nominal", "scale": {"domain": ["L1","L4","L6","L2","L5","BIO4","L3"], "range": ["#440154","#1f9a8a","#bddf26","#443983","#52c569","#708090","#2e6e8e"]}, "legend": null}
 },
 "layer": [
  {"mark": {"type": "line"}, "encoding": {"order": {"value": null}, "strokeDash": {"condition": {"test": "datum.model === 'BIO4'", "value": [14,6]}, "value": [1,0]}, "strokeWidth": {"condition": {"test": "datum.model === 'BIO4'", "value": 3.8}, "value": 2.2}, "opacity": {"condition": {"test": "datum.model === 'BIO4'", "value": 0.8}, "value": 0.9}}},
  {"transform": [{"filter": "datum.model !== 'BIO4'"}], "mark": {"type": "point", "filled": true, "size": 42, "opacity": 0.95}}
 ]},
{"width": 528, "height": 355, "title": "Northeast Australian Shelf", "data": {"name": "nea"},
 "encoding": {
  "x": {"field": "month", "type": "ordinal", "title": null, "scale": {"type": "point", "domain": ["Jan","Feb","Mar","Apr","May","Jun","Jul","Aug","Sep","Oct","Nov","Dec"], "padding": 0.55}, "axis": {"grid": true}},
  "y": {"field": "rmse", "type": "quantitative", "title": "RMSE", "scale": {"domain": [0.076, 0.4135], "zero": false, "nice": false}, "axis": {"values": [0.1,0.15,0.2,0.25,0.3,0.35,0.4], "format": ".2f"}}
 },
 "layer": [
  {"mark": {"type": "line"}, "encoding": {
    "color": {"field": "model", "type": "nominal", "scale": {"domain": ["L1","L4","L6","L2","L5","BIO4","L3"], "range": ["#440154","#1f9a8a","#bddf26","#443983","#52c569","#708090","#2e6e8e"]},
      "legend": {"orient": "top-right", "direction": "horizontal", "offset": 10, "columns": 3, "title": null, "values": ["L1","L4","L6","L2","L5","BIO4","L3"], "labelFontSize": 19, "labelColor": "#000", "symbolType": "M0.413,0L-0.92,0L3.08,0M1.27,0A0.19,0.19,0,1,1,0.89,0A0.19,0.19,0,1,1,1.27,0", "symbolSize": 441, "symbolStrokeWidth": 2.4, "labelOffset": 37, "columnPadding": 37, "rowPadding": 7.5, "padding": 6, "strokeColor": "#cccccc", "fillColor": "rgba(255,255,255,0.85)", "cornerRadius": 4}},
    "order": {"value": null}, "strokeDash": {"condition": {"test": "datum.model === 'BIO4'", "value": [14,6]}, "value": [1,0]}, "strokeWidth": {"condition": {"test": "datum.model === 'BIO4'", "value": 3.8}, "value": 2.2}, "opacity": {"condition": {"test": "datum.model === 'BIO4'", "value": 0.8}, "value": 0.9}}},
  {"transform": [{"filter": "datum.model !== 'BIO4'"}], "mark": {"type": "point", "filled": true, "size": 42, "opacity": 0.95},
   "encoding": {"color": {"field": "model", "type": "nominal", "scale": {"domain": ["L1","L4","L6","L2","L5","BIO4","L3"], "range": ["#440154","#1f9a8a","#bddf26","#443983","#52c569","#708090","#2e6e8e"]}, "legend": null}}},
  {"transform": [{"filter": "datum.model === 'none'"}], "mark": {"type": "line"},
   "encoding": {
    "strokeDash": {"field": "model", "type": "nominal", "scale": {"domain": ["L1","L4","L6","L2","L5","BIO4","L3"], "range": [[1,0],[1,0],[1,0],[1,0],[1,0],[0,14,13,7,13,7],[1,0]]},
      "legend": {"orient": "top-right", "direction": "horizontal", "offset": 10, "columns": 3, "title": null, "values": ["L1","L4","L6","L2","L5","BIO4","L3"], "labelFontSize": 19, "labelColor": "#000", "symbolType": "M0.413,0L-0.92,0L3.08,0M1.27,0A0.19,0.19,0,1,1,0.89,0A0.19,0.19,0,1,1,1.27,0", "symbolSize": 441, "symbolStrokeWidth": 2.4, "labelOffset": 37, "columnPadding": 37, "rowPadding": 7.5, "padding": 6, "strokeColor": "#cccccc", "fillColor": "rgba(255,255,255,0.85)", "cornerRadius": 4}}
   }}
 ]}
]
}
